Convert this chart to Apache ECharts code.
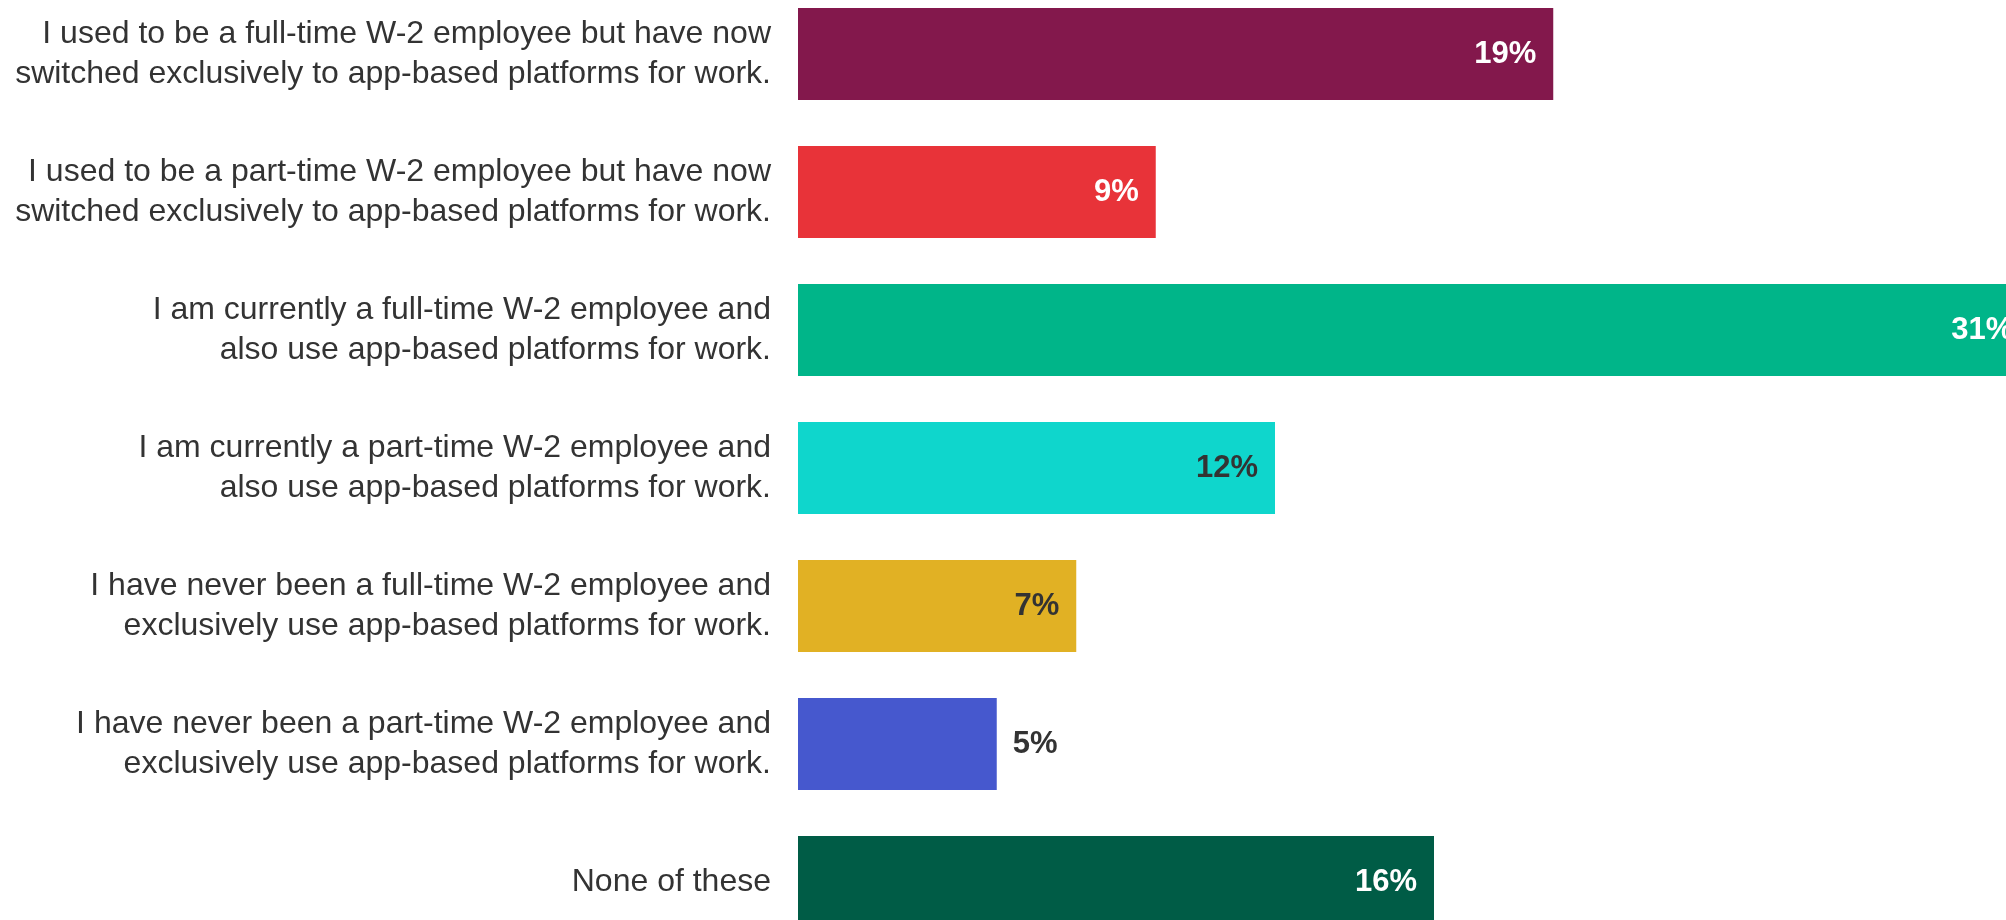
<!DOCTYPE html>
<html>
<head>
<meta charset="utf-8">
<script src="https://cdn.jsdelivr.net/npm/echarts@6/dist/echarts.min.js"></script>
<style>
  html, body { margin: 0; padding: 0; background: #fff; }
  #chart { width: 2006px; height: 920px; }
</style>
</head>
<body>
<div id="chart"></div>
<script>
const categories = [
  "I used to be a full-time W-2 employee but have now\nswitched exclusively to app-based platforms for work.",
  "I used to be a part-time W-2 employee but have now\nswitched exclusively to app-based platforms for work.",
  "I am currently a full-time W-2 employee and\nalso use app-based platforms for work.",
  "I am currently a part-time W-2 employee and\nalso use app-based platforms for work.",
  "I have never been a full-time W-2 employee and\nexclusively use app-based platforms for work.",
  "I have never been a part-time W-2 employee and\nexclusively use app-based platforms for work.",
  "None of these"
];
const shares = [19, 9, 31, 12, 7, 5, 16];

// bar fill and label colour for each row
const barColors = ["#83184c", "#e83339", "#00b589", "#0fd6cc", "#e1b124", "#4658ce", "#005c46"];
const textColors = ["#ffffff", "#ffffff", "#ffffff", "#333333", "#333333", "#333333", "#ffffff"];

const chart = echarts.init(document.getElementById("chart"));

const seriesData = shares.map((v, i) => ({
  value: v,
  itemStyle: { color: barColors[i] },
  label: {
    color: textColors[i],
    // small bars get the label outside
    position: v < 6 ? "right" : "insideRight",
    distance: v < 6 ? 16 : 17
  }
}));

const option = {
  animation: false,
  backgroundColor: "#ffffff",
  grid: {
    left: 798,
    top: -15,
    width: 1272,
    height: 966,
    containLabel: false,
    outerBoundsMode: "none"
  },
  xAxis: {
    type: "value",
    min: 0,
    max: 32,
    show: false
  },
  yAxis: {
    type: "category",
    inverse: true,
    data: categories,
    axisLine: { show: false },
    axisTick: { show: false },
    axisLabel: {
      margin: 27,
      fontSize: 32,
      lineHeight: 40,
      color: "#333333",
      fontFamily: "'Liberation Sans', Arial, sans-serif",
      align: "right"
    }
  },
  series: [
    {
      type: "bar",
      data: seriesData,
      barWidth: 92,
      label: {
        show: true,
        fontSize: 31,
        fontWeight: "bold",
        fontFamily: "'Liberation Sans', Arial, sans-serif",
        formatter: "{c}%"
      }
    }
  ]
};

option && chart.setOption(option);
</script>
</body>
</html>
